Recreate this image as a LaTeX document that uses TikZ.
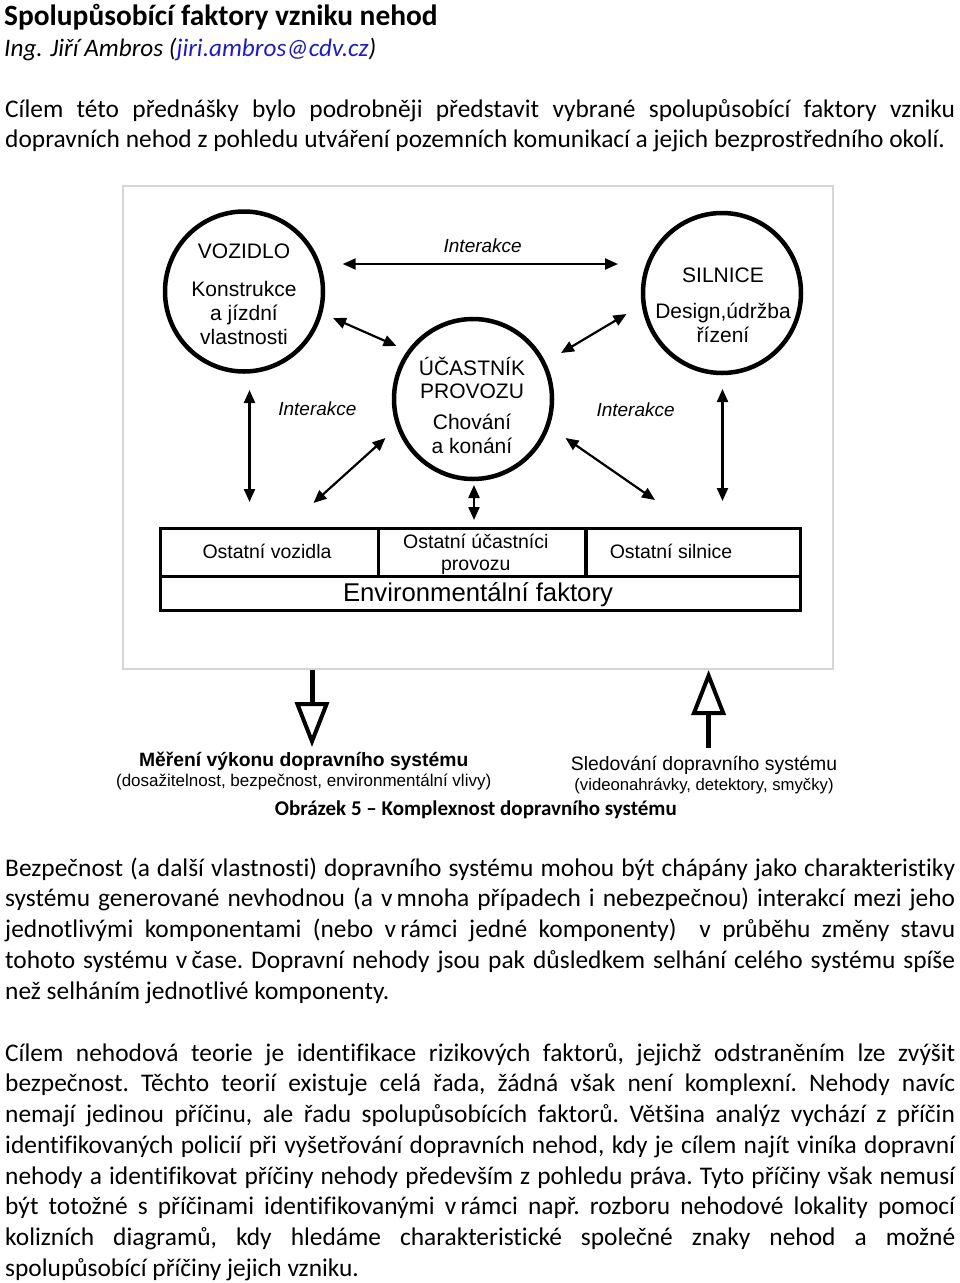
\documentclass[tikz,border=0pt]{standalone}
\usepackage{fontspec}
\setmainfont{Carlito}[Ligatures=CommonOff]
\newfontfamily\figfont{Liberation Sans}
\usetikzlibrary{arrows.meta,shapes.geometric}
\definecolor{maillink}{RGB}{30,30,190}
\hyphenpenalty=10000
\exhyphenpenalty=10000

\begin{document}
\begin{tikzpicture}[x=1pt,y=-1pt,every node/.style={inner sep=0pt},
   unit/.style={ellipse,draw,line width=4.5pt,minimum width=158pt,minimum height=160pt},
   utext/.style={font=\figfont\fontsize{21}{24}\selectfont,align=center},
   inter/.style={font=\figfont\itshape\fontsize{19}{22}\selectfont},
   cell/.style={font=\figfont\fontsize{19.5}{22.3}\selectfont,align=center},
   link/.style={{Triangle[length=13pt,width=11pt]}-{Triangle[length=13pt,width=11pt]},line width=2.2pt},
   hollow/.style={-{Triangle[open,length=45pt,width=34pt,line width=4pt]},line width=5pt},
   body/.style={anchor=north west,text width=950pt,align=justify,
     font=\fontsize{25.4}{30.7}\selectfont\frenchspacing}]
  \fill[white] (0,0) rectangle (960,1283);
  \useasboundingbox (0,0) rectangle (960,1283);
  % heading
  \node[anchor=base west,font=\bfseries\fontsize{29.4}{34}\selectfont] (title) at (4,25) {Spolupůsobící faktory vzniku nehod};
  \node[anchor=base west,font=\itshape\fontsize{25.2}{29}\selectfont] (author) at (4,56.7) {Ing. Jiří Ambros (\textcolor{maillink}{jiri.ambros@cdv.cz})};
  \node[body] (intro) at (5,95.5) {\strut Cílem této přednášky bylo podrobněji představit vybrané spolupůsobící faktory vzniku\linebreak
    dopravních nehod z pohledu utváření pozemních komunikací a jejich bezprostředního okolí.};
  % figure
  \node[draw=black!16,line width=1.5pt,minimum width=710pt,minimum height=483pt] (frame) at (478,427.5) {};
  \node[unit] (vozidlo) at (244,291.5) {};
  \node[unit] (silnice) at (722,293) {};
  \node[unit] (ucastnik) at (473,399) {};
  \node[utext] (vozidlo-t) at (244,294) {VOZIDLO\\[14pt]Konstrukce\\a jízdní\\vlastnosti};
  \node[utext] (silnice-t) at (723,305) {SILNICE\\[12pt]Design,údržba\\řízení};
  \node[utext] (ucastnik-t) at (472,405) {ÚČASTNÍK\\[-1pt]PROVOZU\\[7pt]Chování\\a konání};
  \node[inter] (int-top) at (482.7,245.7) {Interakce};
  \node[inter] (int-left) at (317.4,408.3) {Interakce};
  \node[inter] (int-right) at (635.6,410) {Interakce};
  \coordinate (voz-top) at (342.7,264);   \coordinate (sil-top) at (618,264);
  \coordinate (voz-diag) at (333,318);    \coordinate (ucu-left) at (396.5,346);
  \coordinate (sil-diag) at (626.5,314);  \coordinate (ucu-right) at (561,353);
  \coordinate (voz-down) at (249.5,390);  \coordinate (env-left) at (249.5,502);
  \coordinate (sil-down) at (722.5,389);  \coordinate (env-right) at (722.5,501);
  \coordinate (ucu-sw) at (385.5,438);    \coordinate (env-midleft) at (313.5,503);
  \coordinate (ucu-se) at (565.5,438);    \coordinate (env-midright) at (655,500);
  \coordinate (ucu-down) at (474,485);    \coordinate (env-mid) at (474,520);
  \foreach \a/\b in {voz-top/sil-top,voz-diag/ucu-left,sil-diag/ucu-right,voz-down/env-left,
     sil-down/env-right,ucu-sw/env-midleft,ucu-se/env-midright,ucu-down/env-mid}\draw[link](\a)--(\b);
  % environment table
  \draw[line width=3pt] (160.5,528.5) rectangle (800.5,610);
  \draw[line width=3pt] (160.5,576) -- (800.5,576) (378.5,528.5) -- (378.5,576);
  \draw[line width=4.5pt] (586,528.5) -- (586,576);
  \node[cell] (oth-veh) at (267,551) {Ostatní vozidla};
  \node[cell] (oth-usr) at (475.8,554) {Ostatní účastníci\\provozu};
  \node[cell] (oth-road) at (671,551.7) {Ostatní silnice};
  \node[font=\figfont\fontsize{25.7}{30}\selectfont] (envf) at (478,595) {Environmentální faktory};
  % outputs and inputs
  \coordinate (perf-from) at (312,670);   \coordinate (perf-to) at (312,747);
  \coordinate (mon-from) at (708.6,747.5); \coordinate (mon-to) at (708.6,670);
  \draw[hollow] (perf-from) -- (perf-to);
  \draw[hollow] (mon-from) -- (mon-to);
  \node[font=\figfont\bfseries\fontsize{19.3}{22}\selectfont] (perf) at (303.7,761) {Měření výkonu dopravního systému};
  \node[font=\figfont\fontsize{17}{20}\selectfont] (perf-sub) at (303.7,782) {(dosažitelnost, bezpečnost, environmentální vlivy)};
  \node[font=\figfont\fontsize{19.4}{22}\selectfont] (mon) at (704,765.7) {Sledování dopravního systému};
  \node[font=\figfont\fontsize{16.7}{20}\selectfont] (mon-sub) at (704,786) {(videonahrávky, detektory, smyčky)};
  \node[font=\bfseries\fontsize{21}{25}\selectfont] (caption) at (475.8,810) {Obrázek 5 – Komplexnost dopravního systému};
  % text
  \node[body] (para-a) at (5,854.5) {\strut Bezpečnost (a další vlastnosti) dopravního systému mohou být chápány jako charakteristiky\linebreak
    systému generované nevhodnou (a v\,mnoha případech i nebezpečnou) interakcí mezi jeho\linebreak
    jednotlivými komponentami (nebo v\,rámci jedné komponenty)\ \ v průběhu změny stavu\linebreak
    tohoto systému v\,čase. Dopravní nehody jsou pak důsledkem selhání celého systému spíše\linebreak
    než selháním jednotlivé komponenty.};
  \node[body] (para-b) at (5,1039.5) {\strut Cílem nehodová teorie je identifikace rizikových faktorů, jejichž odstraněním lze zvýšit\linebreak
    bezpečnost. Těchto teorií existuje celá řada, žádná však není komplexní. Nehody navíc\linebreak
    nemají jedinou příčinu, ale řadu spolupůsobících faktorů. Většina analýz vychází z příčin\linebreak
    identifikovaných policií při vyšetřování dopravních nehod, kdy je cílem najít viníka dopravní\linebreak
    nehody a identifikovat příčiny nehody především z pohledu práva. Tyto příčiny však nemusí\linebreak
    být totožné s příčinami identifikovanými v\,rámci např. rozboru nehodové lokality pomocí\linebreak
    kolizních diagramů, kdy hledáme charakteristické společné znaky nehod a možné\linebreak
    spolupůsobící příčiny jejich vzniku.};
\end{tikzpicture}
\end{document}
